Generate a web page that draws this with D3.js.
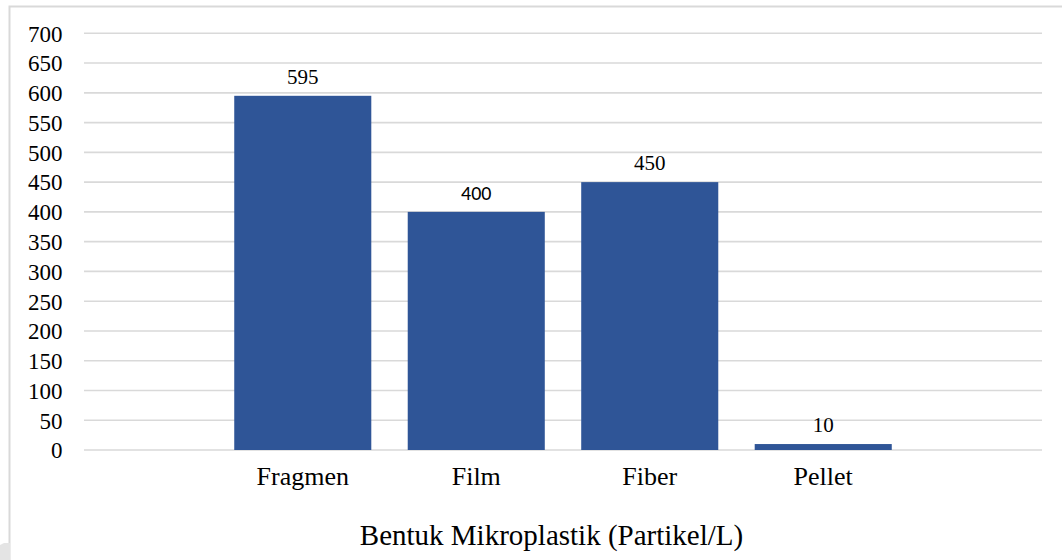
<!DOCTYPE html>
<html>
<head>
<meta charset="utf-8">
<script src="https://cdn.jsdelivr.net/npm/d3@7"></script>
<style>
  html, body { margin: 0; padding: 0; background: #ffffff; }
  svg { display: block; }
  .serif { font-family: "Liberation Serif", "Times New Roman", "DejaVu Serif", serif; }
  .sans { font-family: Carlito, Calibri, Lato, "Liberation Sans", sans-serif; }
</style>
</head>
<body>
<svg id="chart" width="1062" height="560"></svg>
<script>
// Microplastic counts per particle shape
const categories = ["Fragmen", "Film", "Fiber", "Pellet"];
const values = [595, 400, 450, 10];
const yTicks = [0, 50, 100, 150, 200, 250, 300, 350, 400, 450, 500, 550, 600, 650, 700];
const axisTitle = "Bentuk Mikroplastik (Partikel/L)";

const svg = d3.select("#chart");

// chart frame
svg.append("path")
  .attr("d", "M9.5,560 L9.5,6.5 L1062,6.5")
  .attr("fill", "none")
  .attr("stroke", "#d9d9d9")
  .attr("stroke-width", 2);
svg.append("path")
  .attr("d", "M0,560 L0,545 L4,543 L10,543 L10,560 Z")
  .attr("fill", "#e4e4e4");

const plot = { left: 84, right: 1042, top: 33.3, bottom: 450 };

const x = d3.scaleBand()
  .domain(categories)
  .range([plot.left, plot.right])
  .paddingInner(0.21)
  .paddingOuter(0.866);

const y = d3.scaleLinear()
  .domain([0, 700])
  .range([plot.bottom, plot.top]);

// horizontal gridlines
svg.append("g")
  .selectAll("line")
  .data(yTicks)
  .join("line")
  .attr("x1", plot.left)
  .attr("x2", plot.right)
  .attr("y1", d => y(d))
  .attr("y2", d => y(d))
  .attr("stroke", "#d9d9d9")
  .attr("stroke-width", 1.6);

// value axis labels
const yAxis = d3.axisLeft(y).tickValues(yTicks).tickSize(0).tickPadding(0);
const gy = svg.append("g").attr("transform", "translate(62.5,0)").call(yAxis)
  .attr("font-family", null).attr("font-size", null);
gy.select(".domain").remove();
gy.selectAll("text")
  .attr("class", "serif")
  .style("font-size", "23px")
  .attr("fill", "#000")
  .attr("dy", "0.34em");

// bars
svg.append("g")
  .selectAll("rect")
  .data(values)
  .join("rect")
  .attr("x", (d, i) => x(categories[i]))
  .attr("width", x.bandwidth())
  .attr("y", d => y(d))
  .attr("height", d => y(0) - y(d))
  .attr("fill", "#2f5597");

// value labels above the bars; the Film label is set in a sans face
const sansLabels = new Set(["Film"]);
svg.append("g")
  .selectAll("text")
  .data(values)
  .join("text")
  .attr("class", (d, i) => sansLabels.has(categories[i]) ? "sans" : "serif")
  .attr("x", (d, i) => x(categories[i]) + x.bandwidth() / 2)
  .attr("y", d => y(d) - 12)
  .attr("text-anchor", "middle")
  .style("font-size", (d, i) => sansLabels.has(categories[i]) ? "20px" : "21px")
  .attr("fill", "#000")
  .text(d => d);

// category axis labels
const xAxis = d3.axisBottom(x).tickSize(0).tickPadding(0);
const gx = svg.append("g").attr("transform", "translate(0,485)").call(xAxis)
  .attr("font-family", null).attr("font-size", null);
gx.select(".domain").remove();
gx.selectAll("text")
  .attr("class", "serif")
  .style("font-size", "26px")
  .attr("fill", "#000")
  .attr("dy", 0);

// axis title
svg.append("text")
  .attr("class", "serif")
  .attr("x", (plot.left + plot.right) / 2 - 11.5)
  .attr("y", 545)
  .attr("text-anchor", "middle")
  .style("font-size", "29px")
  .attr("fill", "#000")
  .text(axisTitle);
</script>
</body>
</html>
